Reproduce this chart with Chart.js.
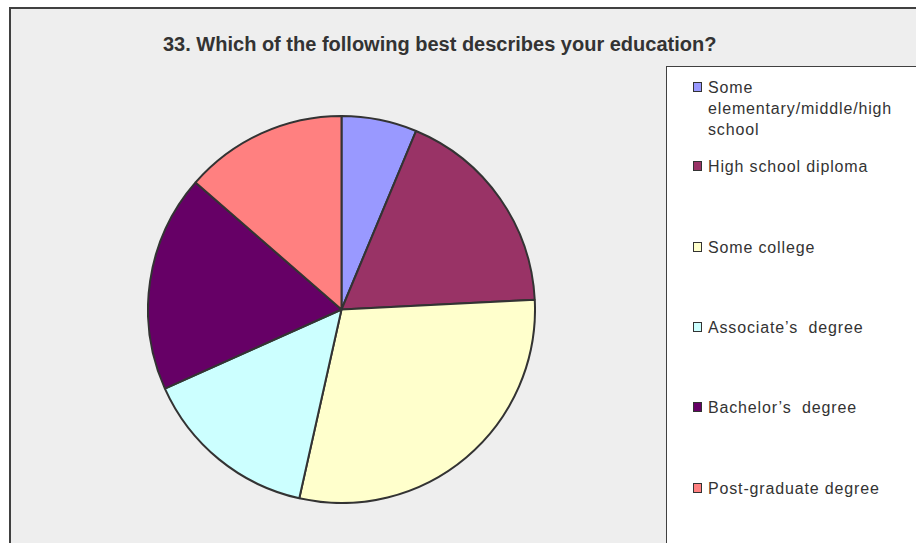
<!DOCTYPE html>
<html>
<head>
<meta charset="utf-8">
<script src="https://cdn.jsdelivr.net/npm/chart.js@4/dist/chart.umd.min.js"></script>
<style>
  html, body { margin: 0; padding: 0; background: #fff; overflow: hidden; }
  body { width: 916px; height: 543px; position: relative; font-family: "Liberation Sans", Arial, sans-serif; }
  #frame {
    position: absolute; left: 9px; top: 7px; width: 940px; height: 560px;
    background: #eeeeee; border: 2px solid #404040; box-sizing: border-box;
  }
  #title {
    position: absolute; left: 163px; top: 33px; white-space: nowrap;
    font-size: 20px; font-weight: bold; color: #333; letter-spacing: 0px;
  }
  #pieBox { position: absolute; left: 147px; top: 115px; width: 389px; height: 389px; }
  #legend {
    position: absolute; left: 666px; top: 66px; width: 300px; height: 520px;
    background: #fff; border: 1px solid #404040; box-sizing: border-box;
  }
  .item { position: absolute; left: 41px; width: 220px; font-size: 16px; line-height: 21px; color: #333; letter-spacing: 0.85px; }
  .item .sw {
    position: absolute; left: -15px; top: 5px; width: 7px; height: 8px;
    border: 1px solid #333;
  }
</style>
</head>
<body>
<div id="frame"></div>
<div id="title">33. Which of the following best describes your education?</div>
<div id="pieBox"><canvas id="pie"></canvas></div>
<div id="legend"></div>

<script>
const categories = [
  'Some elementary/middle/high school',
  'High school diploma',
  'Some college',
  'Associate\u2019s  degree',
  'Bachelor\u2019s  degree',
  'Post-graduate degree'
];
// share of respondents, percent
const shares = [6.3, 17.9, 29.3, 14.8, 18.1, 13.6];
const sliceColors = ['#9999ff', '#993366', '#ffffcc', '#ccffff', '#660066', '#ff8080'];

// legend rows sit about 80px apart; the first label wraps onto three lines
const legendTops = [10, 89, 170, 250, 330, 411];
const legendText = [
  'Some<br>elementary/middle/high<br>school',
  categories[1], categories[2], categories[3], categories[4], categories[5]
];

const legend = document.getElementById('legend');
categories.forEach((cat, i) => {
  const div = document.createElement('div');
  div.className = 'item';
  div.style.top = legendTops[i] + 'px';
  div.innerHTML = `<span class="sw" style="background:${sliceColors[i]}"></span>${legendText[i].replace(/ {2}/g, '&nbsp; ')}`;
  legend.appendChild(div);
});

new Chart(document.getElementById('pie'), {
  type: 'pie',
  data: {
    labels: categories,
    datasets: [{
      data: shares,
      backgroundColor: sliceColors,
      borderColor: '#333333',
      borderWidth: 2
    }]
  },
  options: {
    responsive: true,
    maintainAspectRatio: false,
    animation: false,
    layout: { padding: 0 },
    plugins: {
      legend: { display: false },
      tooltip: { enabled: false }
    }
  }
});
</script>
</body>
</html>
